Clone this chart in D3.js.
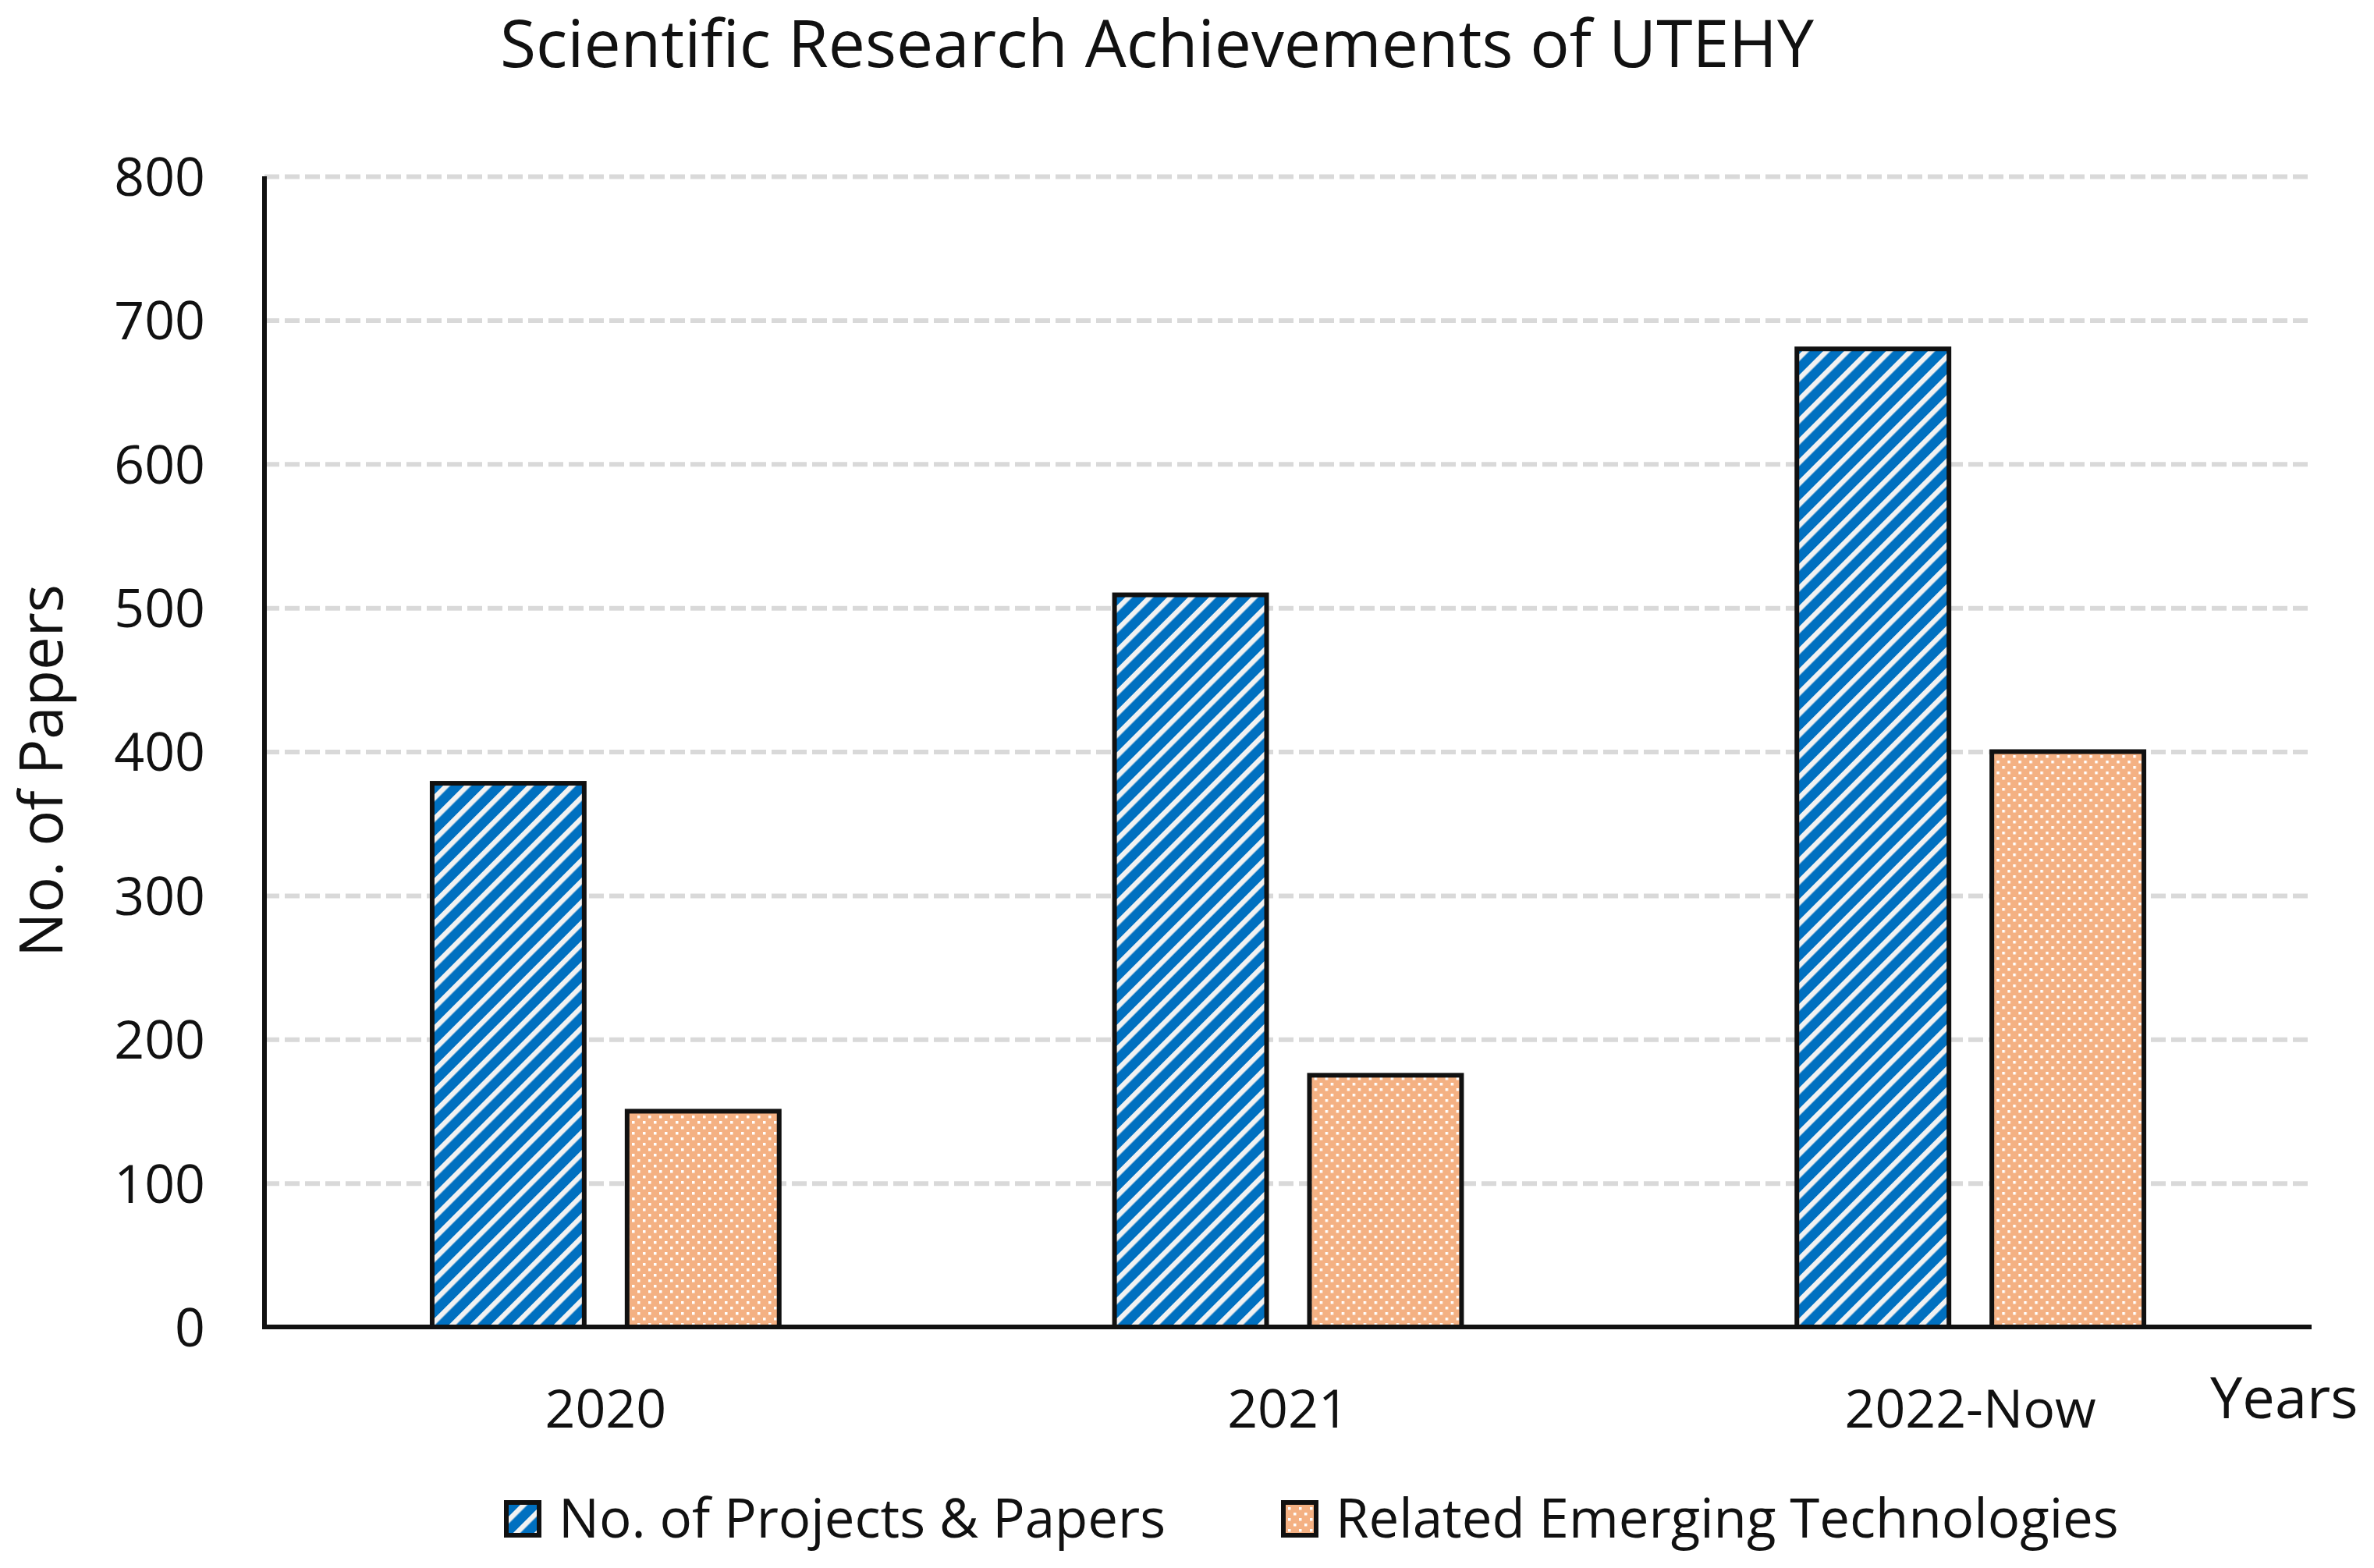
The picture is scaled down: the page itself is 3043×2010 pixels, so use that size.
<!DOCTYPE html>
<html>
<head>
<meta charset="utf-8">
<script src="https://cdn.jsdelivr.net/npm/d3@7"></script>
<style>
  body { margin: 0; background: #fff; }
  text { font-family: "Open Sans", sans-serif; fill: #111; }
</style>
</head>
<body>
<div id="chartContainer"></div>
<script>
//chart data
var categories = ["2020", "2021", "2022-Now"];
var seriesNames = ["No. of Projects & Papers", "Related Emerging Technologies"];
var projectsPapers = [378, 509, 680];
var relatedTech = [150, 175, 400];
var yTickValues = [0, 100, 200, 300, 400, 500, 600, 700, 800];

var W = 3043, H = 2010;
//plot area (note: "top" is reserved on window, so use plot* names)
var plotLeft = 339, plotRight = 2963, plotTop = 226, plotBottom = 1701;

var svg = d3.select("#chartContainer").append("svg")
  .attr("width", W).attr("height", H);

//fill patterns for the two series
var defs = svg.append("defs");
var stripes = defs.append("pattern")
  .attr("id", "stripes")
  .attr("patternUnits", "userSpaceOnUse")
  .attr("width", 19).attr("height", 19)
  .attr("patternTransform", "rotate(45)");
stripes.append("rect").attr("width", 19).attr("height", 19).attr("fill", "#0070C0");
stripes.append("rect").attr("width", 6.5).attr("height", 19).attr("fill", "#f2f2f2");

var dots = defs.append("pattern")
  .attr("id", "dots")
  .attr("patternUnits", "userSpaceOnUse")
  .attr("width", 14).attr("height", 14);
dots.append("rect").attr("width", 14).attr("height", 14).attr("fill", "#F4B183");
dots.append("rect").attr("x", 2).attr("y", 2).attr("width", 3.5).attr("height", 3.5).attr("fill", "#fff");
dots.append("rect").attr("x", 9).attr("y", 9).attr("width", 3.5).attr("height", 3.5).attr("fill", "#fff");

var fills = ["url(#stripes)", "url(#dots)"];

//scales
var x0 = d3.scaleBand().domain(categories).range([plotLeft, plotRight]).padding(0);
var x1 = d3.scaleBand().domain(seriesNames).range([0, x0.bandwidth()])
  .paddingInner(0.22).paddingOuter(0.86);
var y = d3.scaleLinear().domain([0, 800]).range([plotBottom, plotTop]);

//build rows for the grouped bars
var rows = categories.map(function (c, i) {
  return { cat: c, values: [
    { name: seriesNames[0], value: projectsPapers[i] },
    { name: seriesNames[1], value: relatedTech[i] }
  ]};
});

//dashed gridlines
svg.append("g")
  .attr("transform", "translate(" + plotLeft + ",0)")
  .call(d3.axisLeft(y).tickValues(yTickValues.slice(1)).tickSize(-(plotRight - plotLeft)).tickFormat(""))
  .call(function (g) {
    g.select(".domain").remove();
    g.selectAll("line").attr("stroke", "#d9d9d9").attr("stroke-width", 6).attr("stroke-dasharray", "19 7");
  });

//y tick labels
svg.append("g")
  .attr("transform", "translate(" + plotLeft + ",0)")
  .call(d3.axisLeft(y).tickValues(yTickValues).tickSize(0).tickPadding(76))
  .call(function (g) {
    g.select(".domain").remove();
    g.selectAll("text").attr("font-size", 68).attr("font-family", "Open Sans").attr("fill", "#111").attr("dy", "0.36em");
  });

//bars
var groups = svg.append("g").selectAll("g")
  .data(rows).enter().append("g")
  .attr("transform", function (d) { return "translate(" + x0(d.cat) + ",0)"; });

groups.selectAll("rect")
  .data(function (d) { return d.values; })
  .enter().append("rect")
  .attr("x", function (d) { return x1(d.name); })
  .attr("y", function (d) { return y(d.value); })
  .attr("width", x1.bandwidth())
  .attr("height", function (d) { return y(0) - y(d.value); })
  .attr("fill", function (d, i) { return fills[i]; })
  .attr("stroke", "#111")
  .attr("stroke-width", 6);

//x axis labels
svg.append("g")
  .attr("transform", "translate(0," + plotBottom + ")")
  .call(d3.axisBottom(x0).tickSize(0).tickPadding(0))
  .call(function (g) {
    g.select(".domain").remove();
    g.selectAll("text").attr("font-size", 68).attr("font-family", "Open Sans").attr("fill", "#111")
      .attr("dy", null).attr("y", 129);
  });

//axis lines
svg.append("line").attr("x1", plotLeft).attr("x2", plotLeft).attr("y1", plotTop).attr("y2", plotBottom + 3)
  .attr("stroke", "#111").attr("stroke-width", 6);
svg.append("line").attr("x1", plotLeft - 3).attr("x2", plotRight).attr("y1", plotBottom).attr("y2", plotBottom)
  .attr("stroke", "#111").attr("stroke-width", 6);

//title and axis titles
svg.append("text").attr("x", 1483).attr("y", 86).attr("text-anchor", "middle")
  .attr("font-size", 84).text("Scientific Research Achievements of UTEHY");

svg.append("text").attr("transform", "translate(80,988) rotate(-90)").attr("text-anchor", "middle")
  .attr("font-size", 76).text("No. of Papers");

svg.append("text").attr("x", 2833).attr("y", 1818).attr("font-size", 74).text("Years");

//legend
var legendX = [646, 1642];
var legend = svg.append("g").selectAll("g")
  .data(seriesNames).enter().append("g")
  .attr("transform", function (d, i) { return "translate(" + legendX[i] + ",1923)"; });
legend.append("rect")
  .attr("x", 3).attr("y", 3).attr("width", 42).attr("height", 42)
  .attr("fill", function (d, i) { return fills[i]; })
  .attr("stroke", "#111").attr("stroke-width", 6);
legend.append("text")
  .attr("x", 70).attr("y", 48).attr("font-size", 69)
  .text(function (d) { return d; });
</script>
</body>
</html>
